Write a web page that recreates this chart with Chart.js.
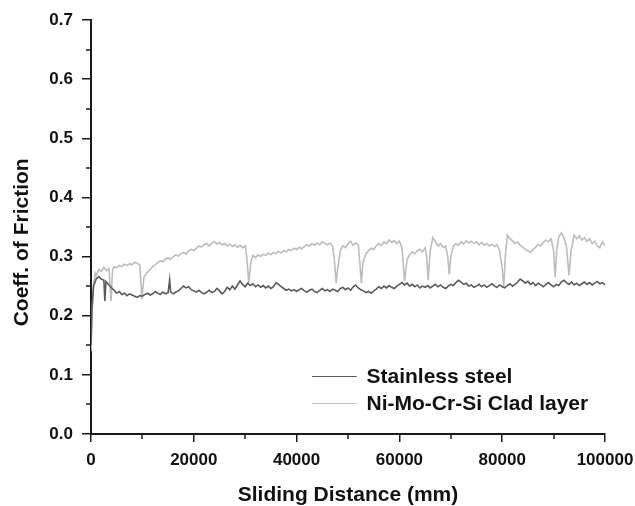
<!DOCTYPE html>
<html>
<head>
<meta charset="utf-8">
<script src="https://cdn.jsdelivr.net/npm/chart.js@4.4.1/dist/chart.umd.min.js"></script>
<style>
  html, body { margin: 0; padding: 0; background: #fff; }
  #wrap { width: 635px; height: 506px; }
</style>
</head>
<body>
<div id="wrap"><canvas id="chart"></canvas></div>
<script>
// Sliding distance (mm) / coefficient of friction
const steelData = [
  [0, 0.15], [200, 0.215], [500, 0.25], [1000, 0.262], [1500, 0.266], [2000, 0.262],
  [2500, 0.26], [2700, 0.225], [2900, 0.258], [3500, 0.252], [4000, 0.247], [4500, 0.243],
  [5000, 0.238], [5500, 0.241], [6000, 0.236], [6500, 0.238], [7000, 0.234], [7500, 0.237],
  [8000, 0.235], [8500, 0.233], [9000, 0.231], [9500, 0.234], [10000, 0.233], [10500, 0.236],
  [11000, 0.238], [11500, 0.235], [12000, 0.237], [12500, 0.241], [13000, 0.238], [13500, 0.236],
  [14000, 0.24], [14500, 0.237], [15000, 0.239], [15300, 0.261], [15500, 0.24], [16000, 0.237],
  [16500, 0.24], [17000, 0.242], [17500, 0.246], [18000, 0.25], [18500, 0.247], [19000, 0.249],
  [19500, 0.244], [20000, 0.242], [20500, 0.24], [21000, 0.243], [21500, 0.239], [22000, 0.237],
  [22500, 0.24], [23000, 0.243], [23500, 0.239], [24000, 0.241], [24500, 0.246], [25000, 0.242],
  [25500, 0.237], [26000, 0.241], [26500, 0.248], [27000, 0.244], [27500, 0.25], [28000, 0.245],
  [28500, 0.252], [29000, 0.259], [29500, 0.253], [30000, 0.249], [30500, 0.255], [31000, 0.251],
  [31500, 0.254], [32000, 0.249], [32500, 0.252], [33000, 0.248], [33500, 0.251], [34000, 0.247],
  [34500, 0.25], [35000, 0.246], [35500, 0.249], [36000, 0.256], [36500, 0.253], [37000, 0.249],
  [37500, 0.246], [38000, 0.243], [38500, 0.245], [39000, 0.242], [39500, 0.244], [40000, 0.241],
  [40500, 0.244], [41000, 0.246], [41500, 0.242], [42000, 0.24], [42500, 0.243], [43000, 0.245],
  [43500, 0.241], [44000, 0.239], [44500, 0.243], [45000, 0.246], [45500, 0.242], [46000, 0.244],
  [46500, 0.241], [47000, 0.245], [47500, 0.243], [48000, 0.241], [48500, 0.246], [49000, 0.248],
  [49500, 0.244], [50000, 0.247], [50500, 0.243], [51000, 0.249], [51500, 0.252], [52000, 0.247],
  [52500, 0.244], [53000, 0.242], [53500, 0.239], [54000, 0.241], [54500, 0.238], [55000, 0.242],
  [55500, 0.245], [56000, 0.249], [56500, 0.246], [57000, 0.25], [57500, 0.247], [58000, 0.251],
  [58500, 0.248], [59000, 0.246], [59500, 0.25], [60000, 0.253], [60500, 0.256], [61000, 0.252],
  [61500, 0.255], [62000, 0.25], [62500, 0.253], [63000, 0.249], [63500, 0.252], [64000, 0.247],
  [64500, 0.25], [65000, 0.248], [65500, 0.251], [66000, 0.247], [66500, 0.25], [67000, 0.253],
  [67500, 0.249], [68000, 0.252], [68500, 0.248], [69000, 0.246], [69500, 0.25], [70000, 0.253],
  [70500, 0.251], [71000, 0.256], [71500, 0.26], [72000, 0.257], [72500, 0.253], [73000, 0.255],
  [73500, 0.25], [74000, 0.252], [74500, 0.248], [75000, 0.25], [75500, 0.253], [76000, 0.249],
  [76500, 0.252], [77000, 0.248], [77500, 0.251], [78000, 0.254], [78500, 0.25], [79000, 0.248],
  [79500, 0.252], [80000, 0.249], [80500, 0.247], [81000, 0.251], [81500, 0.254], [82000, 0.25],
  [82500, 0.253], [83000, 0.257], [83500, 0.262], [84000, 0.259], [84500, 0.255], [85000, 0.258],
  [85500, 0.253], [86000, 0.256], [86500, 0.251], [87000, 0.255], [87500, 0.252], [88000, 0.249],
  [88500, 0.253], [89000, 0.256], [89500, 0.252], [90000, 0.249], [90500, 0.253], [91000, 0.251],
  [91500, 0.257], [92000, 0.26], [92500, 0.256], [93000, 0.253], [93500, 0.257], [94000, 0.252],
  [94500, 0.255], [95000, 0.251], [95500, 0.254], [96000, 0.257], [96500, 0.253], [97000, 0.256],
  [97500, 0.252], [98000, 0.255], [98500, 0.258], [99000, 0.254], [99500, 0.256], [100000, 0.252]
];

const cladData = [
  [0, 0.14], [200, 0.2], [500, 0.255], [800, 0.272], [1000, 0.268], [1500, 0.278],
  [2000, 0.275], [2500, 0.282], [3000, 0.276], [3500, 0.28], [3900, 0.225], [4200, 0.278],
  [4500, 0.283], [5000, 0.281], [5500, 0.285], [6000, 0.283], [6500, 0.287], [7000, 0.285],
  [7500, 0.288], [8000, 0.286], [8500, 0.29], [9000, 0.289], [9500, 0.285], [9900, 0.228],
  [10300, 0.265], [10800, 0.272], [11500, 0.278], [12000, 0.283], [12500, 0.286], [13000, 0.29],
  [13500, 0.293], [14000, 0.291], [14500, 0.296], [15000, 0.298], [15500, 0.295], [16000, 0.3],
  [16500, 0.303], [17000, 0.301], [17500, 0.305], [18000, 0.307], [18500, 0.304], [19000, 0.31],
  [19500, 0.312], [20000, 0.31], [20500, 0.314], [21000, 0.318], [21500, 0.316], [22000, 0.32],
  [22500, 0.322], [23000, 0.318], [23500, 0.323], [24000, 0.325], [24500, 0.321], [25000, 0.324],
  [25500, 0.32], [26000, 0.322], [26500, 0.318], [27000, 0.321], [27500, 0.317], [28000, 0.32],
  [28500, 0.316], [29000, 0.319], [29500, 0.315], [30000, 0.318], [30300, 0.3], [30700, 0.255],
  [31100, 0.29], [31500, 0.302], [32000, 0.298], [32500, 0.303], [33000, 0.3], [33500, 0.304],
  [34000, 0.302], [34500, 0.306], [35000, 0.303], [35500, 0.307], [36000, 0.305], [36500, 0.309],
  [37000, 0.306], [37500, 0.31], [38000, 0.308], [38500, 0.312], [39000, 0.31], [39500, 0.314],
  [40000, 0.312], [40500, 0.316], [41000, 0.313], [41500, 0.317], [42000, 0.32], [42500, 0.318],
  [43000, 0.322], [43500, 0.319], [44000, 0.323], [44500, 0.32], [45000, 0.325], [45500, 0.322],
  [46000, 0.32], [46500, 0.323], [47000, 0.318], [47400, 0.29], [47700, 0.255], [48000, 0.28],
  [48500, 0.31], [49000, 0.318], [49500, 0.315], [50000, 0.322], [50500, 0.326], [51000, 0.319],
  [51500, 0.323], [52000, 0.32], [52300, 0.29], [52600, 0.255], [52900, 0.29], [53500, 0.305],
  [54000, 0.31], [54500, 0.314], [55000, 0.312], [55500, 0.318], [56000, 0.322], [56500, 0.319],
  [57000, 0.325], [57500, 0.322], [58000, 0.328], [58500, 0.324], [59000, 0.327], [59500, 0.322],
  [60000, 0.326], [60500, 0.315], [61000, 0.258], [61500, 0.295], [62000, 0.303], [62500, 0.308],
  [63000, 0.305], [63500, 0.31], [64000, 0.312], [64500, 0.308], [65000, 0.315], [65300, 0.3],
  [65600, 0.26], [66000, 0.31], [66500, 0.332], [67000, 0.325], [67500, 0.318], [68000, 0.322],
  [68500, 0.315], [69000, 0.318], [69400, 0.3], [69700, 0.27], [70000, 0.3], [70500, 0.318],
  [71000, 0.322], [71500, 0.319], [72000, 0.325], [72500, 0.321], [73000, 0.327], [73500, 0.323],
  [74000, 0.326], [74500, 0.322], [75000, 0.325], [75500, 0.32], [76000, 0.324], [76500, 0.319],
  [77000, 0.322], [77500, 0.318], [78000, 0.321], [78500, 0.317], [79000, 0.32], [79500, 0.31],
  [80000, 0.28], [80300, 0.247], [80600, 0.3], [81000, 0.336], [81500, 0.33], [82000, 0.327],
  [82500, 0.322], [83000, 0.325], [83500, 0.319], [84000, 0.316], [84500, 0.312], [85000, 0.31],
  [85500, 0.307], [86000, 0.312], [86500, 0.316], [87000, 0.32], [87500, 0.318], [88000, 0.324],
  [88500, 0.328], [89000, 0.325], [89500, 0.33], [90000, 0.31], [90300, 0.265], [90600, 0.31],
  [91000, 0.333], [91500, 0.34], [92000, 0.332], [92500, 0.318], [93000, 0.268], [93400, 0.31],
  [94000, 0.336], [94500, 0.33], [95000, 0.335], [95500, 0.328], [96000, 0.332], [96500, 0.326],
  [97000, 0.33], [97500, 0.322], [98000, 0.326], [98500, 0.318], [99000, 0.315], [99500, 0.325],
  [100000, 0.318]
];

const seriesLabels = ['Stainless steel', 'Ni-Mo-Cr-Si Clad layer'];
const xTitle = 'Sliding Distance (mm)';
const yTitle = 'Coeff. of Friction';

const FONT = '"Liberation Sans", Arial, Helvetica, sans-serif';
const AXIS = '#1a1a1a';

// minor ticks halfway between the labelled ones
const minorTicks = {
  id: 'minorTicks',
  afterDraw(chart) {
    const { ctx, scales: { x, y } } = chart;
    ctx.save();
    ctx.strokeStyle = AXIS;
    ctx.lineWidth = 1.5;
    ctx.beginPath();
    for (let v = 10000; v < 100000; v += 20000) {
      const px = Math.round(x.getPixelForValue(v));
      ctx.moveTo(px, y.bottom);
      ctx.lineTo(px, y.bottom + 5);
    }
    for (let i = 0; i < 7; i++) {
      const py = Math.round(y.getPixelForValue(0.05 + i * 0.1));
      ctx.moveTo(x.left, py);
      ctx.lineTo(x.left - 5, py);
    }
    ctx.stroke();
    ctx.restore();
  }
};

// y title drawn by hand: the original sits a bit below the axis middle
const yTitleText = {
  id: 'yTitleText',
  afterDraw(chart) {
    const { ctx, chartArea: a } = chart;
    ctx.save();
    ctx.translate(a.left - 69, a.top + (a.bottom - a.top) * 0.537);
    ctx.rotate(-Math.PI / 2);
    ctx.font = 'bold 21px ' + FONT;
    ctx.fillStyle = '#111';
    ctx.textAlign = 'center';
    ctx.textBaseline = 'middle';
    ctx.fillText(yTitle, 0, 0);
    ctx.restore();
  }
};

// legend sitting inside the plot, lower right
const insideLegend = {
  id: 'insideLegend',
  afterDraw(chart) {
    const { ctx, chartArea: a } = chart;
    const w = a.right - a.left, h = a.bottom - a.top;
    const x0 = a.left + w * 0.43, x1 = a.left + w * 0.517, tx = a.left + w * 0.536;
    ctx.save();
    ctx.font = 'bold 21px ' + FONT;
    ctx.textBaseline = 'middle';
    ctx.fillStyle = '#111';
    chart.data.datasets.forEach((ds, i) => {
      const yy = Math.round(a.top + h * (0.86 + i * 0.066)) + 0.5;
      ctx.strokeStyle = ds.borderColor;
      ctx.lineWidth = 1.2;
      ctx.beginPath();
      ctx.moveTo(x0, yy);
      ctx.lineTo(x1, yy);
      ctx.stroke();
      ctx.fillText(ds.label, tx, yy + 1);
    });
    ctx.restore();
  }
};

const toPoints = arr => arr.map(([x, y]) => ({ x, y }));

new Chart(document.getElementById('chart'), {
  type: 'line',
  data: {
    datasets: [
      {
        label: seriesLabels[0],
        data: toPoints(steelData),
        borderColor: '#5a5a5a',
        borderWidth: 1.6,
        pointRadius: 0,
        tension: 0
      },
      {
        label: seriesLabels[1],
        data: toPoints(cladData),
        borderColor: '#bdbdbd',
        borderWidth: 1.6,
        pointRadius: 0,
        tension: 0
      }
    ]
  },
  options: {
    responsive: true,
    maintainAspectRatio: false,
    animation: false,
    layout: { padding: { top: 20, right: 30, left: 0, bottom: 0 } },
    plugins: {
      legend: { display: false },
      tooltip: { enabled: false }
    },
    scales: {
      x: {
        type: 'linear',
        min: 0,
        max: 100000,
        afterFit: s => { s.height = 72; s.paddingLeft = 0; s.paddingRight = 0; },
        border: { display: true, color: AXIS, width: 2 },
        grid: { drawOnChartArea: false, drawTicks: true, tickLength: 8, color: AXIS, lineWidth: 1.5 },
        ticks: {
          stepSize: 20000,
          padding: 8,
          color: '#111',
          font: { family: FONT, size: 17, weight: 'bold' },
          maxRotation: 0,
          callback: v => String(v)
        },
        title: {
          display: true,
          text: xTitle,
          color: '#111',
          font: { family: FONT, size: 21, weight: 'bold' },
          padding: { top: 0, bottom: -2 }
        }
      },
      y: {
        min: 0,
        max: 0.7,
        afterFit: s => { s.width = 91; s.paddingTop = 0; s.paddingBottom = 0; },
        border: { display: true, color: AXIS, width: 2 },
        grid: { drawOnChartArea: false, drawTicks: true, tickLength: 9, color: AXIS, lineWidth: 1.5 },
        ticks: {
          stepSize: 0.1,
          padding: 9,
          color: '#111',
          font: { family: FONT, size: 17, weight: 'bold' },
          callback: v => v.toFixed(1)
        }
      }
    }
  },
  plugins: [minorTicks, yTitleText, insideLegend]
});
</script>
</body>
</html>
